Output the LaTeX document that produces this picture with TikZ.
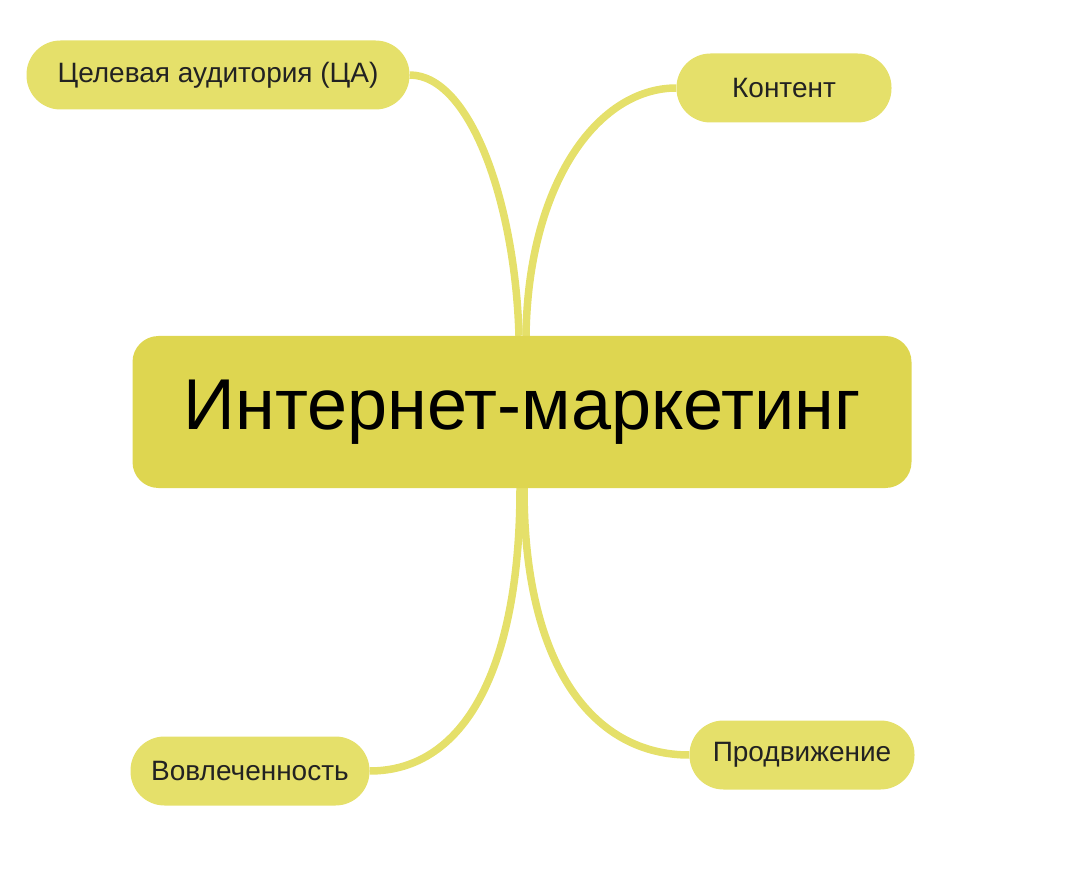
\documentclass[tikz,border=0pt]{standalone}
\usepackage{fontspec}
\setmainfont{Liberation Sans}
\usetikzlibrary{backgrounds}
\definecolor{mapgold}{HTML}{DED650}
\definecolor{mapyellow}{HTML}{E5E06A}
\definecolor{maptext}{HTML}{222222}

\begin{document}
\begin{tikzpicture}[x=1pt, y=-1pt,
            topic/.style = {fill=mapgold, rounded corners=26pt,
                minimum width=779pt, minimum height=152pt,
                font=\fontsize{72}{80}\selectfont},
            branch/.style = {fill=mapyellow, rounded corners=34pt,
                minimum height=69pt, text=maptext,
                font=\fontsize{28}{32}\selectfont},
            link/.style = {draw=mapyellow, line width=7.5pt}]

        \useasboundingbox (0,0) rectangle (1090,890);

        % Main topic
        \node[topic] (main) at (522,412) {Интернет-маркетинг};

        % Branches
        \node[branch, minimum width=383pt] (ca) at (218,75) {Целевая аудитория (ЦА)};
        \node[branch, minimum width=215pt] (content) at (784,88) {Контент};
        \node[branch, minimum width=239pt] (engage) at (250,771) {Вовлеченность};
        \node[branch, minimum width=225pt] (promo) at (802,755) {Продвижение};

        % Links
        \begin{scope}[on background layer]
            \draw[link] (ca.east) .. controls +(60,0) and +(-4,-135) .. ([xshift=-3pt]main.north);
            \draw[link] (content.west) .. controls +(-80,0) and +(2,-150) .. ([xshift=4pt]main.north);
            \draw[link] ([xshift=-2pt]main.south) .. controls +(0,180) and +(95,0) .. (engage.east);
            \draw[link] ([xshift=2pt]main.south) .. controls +(0,180) and +(-95,0) .. (promo.west);
        \end{scope}

\end{tikzpicture}
\end{document}
